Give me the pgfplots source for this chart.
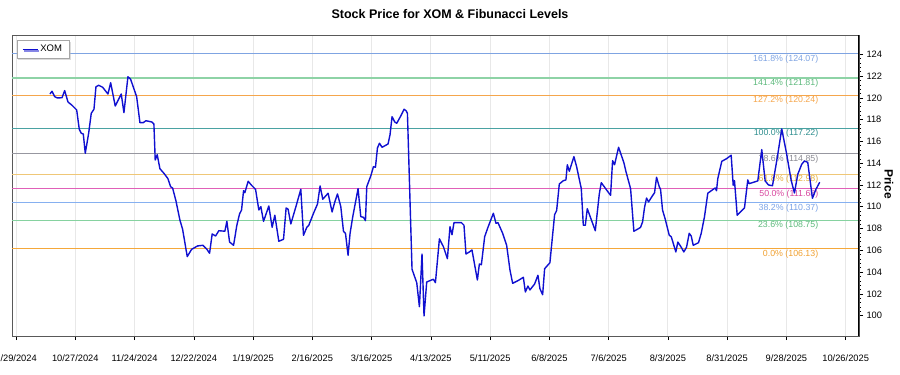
\documentclass[border=0pt]{standalone}
\usepackage{fontspec}
\setmainfont{Liberation Sans}
\usepackage{pgfplots}
\pgfplotsset{compat=1.18}
\usetikzlibrary{shadows}
\definecolor{xomblue}{HTML}{1010D0}
\definecolor{fA}{HTML}{7FA4E2}
\definecolor{fB}{HTML}{8ED3A6}
\definecolor{fBt}{HTML}{5DB97C}
\definecolor{fC}{HTML}{F5A64C}
\definecolor{fD}{HTML}{4AA2A2}
\definecolor{fDt}{HTML}{2F8F8F}
\definecolor{fE}{HTML}{9797A0}
\definecolor{fEt}{HTML}{8A8A92}
\definecolor{fF}{HTML}{EFC777}
\definecolor{fFt}{HTML}{E3AE3E}
\definecolor{fG}{HTML}{E060B8}
\definecolor{fGt}{HTML}{D8479F}
\definecolor{fH}{HTML}{86B0F0}
\definecolor{fHt}{HTML}{7AA2E6}
\definecolor{fI}{HTML}{86D2A0}
\definecolor{fIt}{HTML}{5DB97C}
\definecolor{fJ}{HTML}{F5A83A}
\definecolor{fJt}{HTML}{F0A030}
\pgfplotstableread{
d P
16.05 120.35
17.0 120.60
18.27 120.11
19.5 119.99
21.72 120.01
22.99 120.66
24.55 119.62
26.44 119.32
28.66 118.89
29.89 117.11
30.83 116.75
31.78 116.68
32.72 114.91
34.32 116.75
35.55 118.58
36.83 118.95
37.77 121.02
39.05 121.15
40.93 120.97
43.44 120.35
44.71 121.39
46.88 119.25
49.72 120.35
50.99 118.64
52.88 121.94
54.15 121.70
56.99 120.11
58.55 117.72
60.1 117.72
61.38 117.90
64.21 117.78
65.15 117.60
65.77 114.29
66.71 114.78
67.99 113.49
69.88 113.07
71.77 112.58
73.04 111.84
73.98 111.72
75.54 110.56
77.43 108.78
78.71 107.93
80.9 105.42
82.96 106.09
85.79 106.40
88.29 106.46
90.18 106.09
91.45 105.73
92.68 107.50
94.29 107.31
95.84 107.80
98.68 107.75
99.62 108.66
100.9 106.76
102.79 106.46
104.34 108.30
105.62 109.34
106.56 109.70
107.51 111.47
108.12 111.29
109.68 112.34
111.28 111.97
113.17 111.60
114.73 109.70
115.67 110.01
116.95 108.66
119.45 110.07
121.01 108.11
122.28 109.22
124.17 106.83
126.39 107.01
127.62 109.89
128.56 109.77
129.84 108.42
132.34 110.07
134.56 111.60
135.83 107.38
137.39 108.11
138.34 108.30
140.56 109.40
142.44 110.25
143.67 111.91
144.95 110.69
147.45 111.24
149.34 109.52
150.61 110.44
151.89 111.17
153.45 110.01
154.72 107.75
155.67 107.56
156.89 105.54
157.84 107.56
159.11 109.09
161.61 111.66
162.89 109.09
164.16 109.03
165.11 108.72
165.72 111.84
167.61 112.82
168.88 113.68
169.83 113.62
170.77 115.40
171.72 115.83
172.95 115.46
175.78 115.76
176.72 116.62
177.67 118.27
178.94 117.78
179.89 117.66
182.1 118.45
183.33 118.95
184.28 118.82
184.94 118.58
187.11 104.26
189.33 103.03
190.6 100.82
191.83 105.66
192.78 99.97
194.05 103.09
196.27 103.27
197.21 103.34
198.16 103.03
200.05 107.05
201.93 106.33
203.82 105.23
205.05 108.17
206.0 107.43
206.94 108.54
210.43 108.54
211.66 108.30
212.6 105.66
214.21 105.85
215.44 106.03
217.99 103.27
218.93 104.74
219.88 104.68
221.43 107.25
222.99 108.11
225.54 109.40
226.77 108.48
227.71 108.54
229.93 107.56
231.82 106.46
233.38 104.19
234.65 102.97
237.15 103.21
239.71 103.52
240.65 102.17
241.88 102.72
242.82 102.36
245.04 102.91
246.6 103.71
247.54 102.48
248.82 101.92
249.76 104.31
252.26 104.86
253.21 106.76
254.48 109.27
255.43 109.64
256.7 112.09
258.59 112.39
259.82 112.46
260.48 113.86
261.42 113.26
263.6 114.60
264.87 113.68
267.09 111.66
268.04 108.30
268.98 108.30
269.92 109.82
272.09 108.66
273.7 107.80
275.59 111.17
276.53 112.21
279.04 111.54
280.92 111.05
281.87 114.23
282.81 113.86
284.7 115.46
287.2 114.05
288.15 113.26
290.37 111.66
291.93 107.75
294.14 107.99
295.09 108.11
296.03 108.60
296.98 109.95
297.92 110.80
298.86 110.44
300.42 110.92
301.7 111.29
302.64 112.71
303.92 111.84
304.53 111.60
305.47 109.70
306.75 108.85
308.64 107.38
309.58 107.25
310.81 106.46
311.76 105.85
312.7 106.76
314.3 106.28
315.53 105.85
316.81 106.28
318.08 107.56
319.03 107.31
319.97 106.46
322.47 106.70
323.75 107.56
325.3 109.09
326.86 111.24
329.41 111.60
330.36 111.72
330.97 111.47
331.58 112.58
333.47 114.17
335.69 114.41
337.91 114.73
338.86 111.97
339.47 112.39
340.75 109.22
342.3 109.52
344.19 109.89
345.75 112.46
346.41 112.12
350.47 112.37
352.36 115.24
353.96 112.37
355.52 112.00
357.41 111.93
359.63 114.45
361.8 117.14
364.02 114.94
366.24 112.43
367.8 111.26
369.36 112.98
371.24 113.90
372.52 114.20
374.08 114.08
376.3 110.78
377.86 111.57
379.74 112.25
}\xomdata
\begin{document}
\begin{tikzpicture}
\useasboundingbox (0,0) rectangle (900pt,375pt);
\node[font=\fontsize{12.5}{14}\selectfont\bfseries] at (450pt,361pt) {Stock Price for XOM \& Fibunacci Levels};
\node[font=\fontsize{12}{14}\selectfont\bfseries, rotate=-90] at (889pt,191pt) {Price};
\begin{axis}[
  at={(12pt,39pt)}, anchor=south west,
  scale only axis, width=847pt, height=301pt,
  xmin=-1.9, xmax=398.3, ymin=98.13, ymax=125.77,
  xtick={0,28,...,392},
  xticklabels={9/29/2024,10/27/2024,11/24/2024,12/22/2024,1/19/2025,2/16/2025,3/16/2025,4/13/2025,5/11/2025,6/8/2025,7/6/2025,8/3/2025,8/31/2025,9/28/2025,10/26/2025},
  ytick={100,102,...,124},
  minor y tick num=4,
  xtick pos=left, ytick pos=right, yticklabel pos=right,
  tick align=outside,
  major tick length=4pt, minor tick length=2pt,
  tick style={black, line width=0.6pt},
  minor tick style={black, line width=0.5pt},
  xmajorgrids, major x grid style={gray!18, line width=0.8pt},
  axis line style={black!65, line width=0.9pt},
  /pgf/number format/assume math mode=true,
  ticklabel style={font=\fontsize{9.3}{10}\selectfont},
  xticklabel style={yshift=-11pt},
  legend style={at={(0,1)}, anchor=north west, xshift=4.7pt, yshift=-5pt,
    draw=gray!70, line width=0.6pt, fill=white,
    font=\fontsize{9.5}{11}\selectfont, inner xsep=5pt, inner ysep=3pt,
    drop shadow={shadow xshift=1.5pt, shadow yshift=-1.5pt, fill=gray!55}},
  legend cell align=left,
  legend image code/.code={\draw[#1, line width=1.4pt] (0pt,0pt) -- (15pt,0pt);},
  clip=true,
]
\addplot[forget plot, fA, line width=0.9pt] coordinates {(-1.9,124.07) (398.3,124.07)};
\addplot[forget plot, fB, line width=1.4pt] coordinates {(-1.9,121.81) (398.3,121.81)};
\addplot[forget plot, fC, line width=1.1pt] coordinates {(-1.9,120.24) (398.3,120.24)};
\addplot[forget plot, fD, line width=1.1pt] coordinates {(-1.9,117.22) (398.3,117.22)};
\addplot[forget plot, fE, line width=1pt] coordinates {(-1.9,114.85) (398.3,114.85)};
\addplot[forget plot, fF, line width=1.4pt] coordinates {(-1.9,112.98) (398.3,112.98)};
\addplot[forget plot, fG, line width=1.1pt] coordinates {(-1.9,111.68) (398.3,111.68)};
\addplot[forget plot, fH, line width=0.9pt] coordinates {(-1.9,110.37) (398.3,110.37)};
\addplot[forget plot, fI, line width=1.4pt] coordinates {(-1.9,108.75) (398.3,108.75)};
\addplot[forget plot, fJ, line width=1pt] coordinates {(-1.9,106.13) (398.3,106.13)};
\begin{scope}[every node/.style={anchor=north east, inner sep=1pt, font=\fontsize{8.8}{9.5}\selectfont}]
\node[text=fA] at (axis cs:379.6,124.07) {161.8\% (124.07)};
\node[text=fBt] at (axis cs:379.6,121.81) {141.4\% (121.81)};
\node[text=fC] at (axis cs:379.6,120.24) {127.2\% (120.24)};
\node[text=fDt] at (axis cs:379.6,117.22) {100.0\% (117.22)};
\node[text=fEt] at (axis cs:379.6,114.85) {78.6\% (114.85)};
\node[text=fFt] at (axis cs:379.6,112.98) {61.8\% (112.98)};
\node[text=fGt] at (axis cs:379.6,111.68) {50.0\% (111.68)};
\node[text=fHt] at (axis cs:379.6,110.37) {38.2\% (110.37)};
\node[text=fIt] at (axis cs:379.6,108.75) {23.6\% (108.75)};
\node[text=fJt] at (axis cs:379.6,106.13) {0.0\% (106.13)};
\end{scope}
\addplot[xomblue, line width=1.4pt, line join=round] table[x=d, y=P] {\xomdata};
\addlegendentry{XOM}
\draw[black, line width=1.1pt] (rel axis cs:1,0) -- (rel axis cs:1,1);
\end{axis}
\end{tikzpicture}
\end{document}
